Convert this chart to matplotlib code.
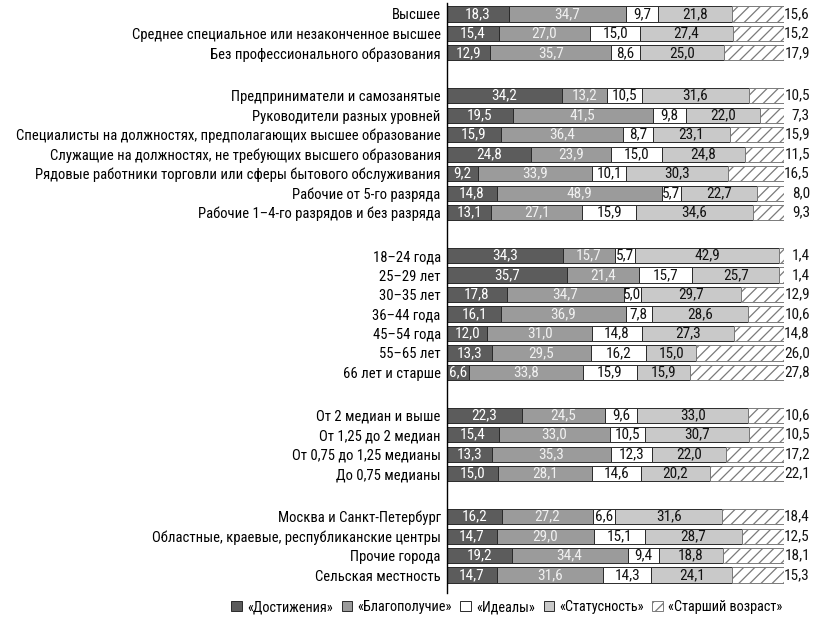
import matplotlib; matplotlib.use("Agg")
import matplotlib.pyplot as plt
from matplotlib import font_manager as fm
from matplotlib.patches import Patch

# narrow sans with Cyrillic, whichever is installed
_have = {f.name for f in fm.fontManager.ttflist}
_cands = ["Roboto Condensed", "PT Sans Narrow", "Liberation Sans Narrow",
          "Fira Sans Condensed", "Open Sans Condensed", "Arial Narrow"]
FONT = next((c for c in _cands if c in _have), "DejaVu Sans")
plt.rcParams.update({"font.family": [FONT, "DejaVu Sans"],
                     "font.size": 10, "hatch.linewidth": 0.9})

SERIES = ["«Достижения»", "«Благополучие»", "«Идеалы»", "«Статусность»", "«Старший возраст»"]
COLORS = ["#5c5c5c", "#9b9b9b", "#ffffff", "#c9c9c9", "#ffffff"]
TXTCOL = ["white", "#f0f0f0", "#111", "#111", "#111"]
HATCH_EC = "#7a7a7a"

groups = [
    ["Высшее",
     "Среднее специальное или незаконченное высшее",
     "Без профессионального образования"],
    ["Предприниматели и самозанятые",
     "Руководители разных уровней",
     "Специалисты на должностях, предполагающих высшее образование",
     "Служащие на должностях, не требующих высшего образования",
     "Рядовые работники торговли или сферы бытового обслуживания",
     "Рабочие от 5-го разряда",
     "Рабочие 1–4-го разрядов и без разряда"],
    ["18–24 года", "25–29 лет", "30–35 лет", "36–44 года",
     "45–54 года", "55–65 лет", "66 лет и старше"],
    ["От 2 медиан и выше", "От 1,25 до 2 медиан",
     "От 0,75 до 1,25 медианы", "До 0,75 медианы"],
    ["Москва и Санкт-Петербург",
     "Областные, краевые, республиканские центры",
     "Прочие города", "Сельская местность"],
]

dostizh = [18.3, 15.4, 12.9,
           34.2, 19.5, 15.9, 24.8, 9.2, 14.8, 13.1,
           34.3, 35.7, 17.8, 16.1, 12.0, 13.3, 6.6,
           22.3, 15.4, 13.3, 15.0,
           16.2, 14.7, 19.2, 14.7]
blagop = [34.7, 27.0, 35.7,
          13.2, 41.5, 36.4, 23.9, 33.9, 48.9, 27.1,
          15.7, 21.4, 34.7, 36.9, 31.0, 29.5, 33.8,
          24.5, 33.0, 35.3, 28.1,
          27.2, 29.0, 34.4, 31.6]
idealy = [9.7, 15.0, 8.6,
          10.5, 9.8, 8.7, 15.0, 10.1, 5.7, 15.9,
          5.7, 15.7, 5.0, 7.8, 14.8, 16.2, 15.9,
          9.6, 10.5, 12.3, 14.6,
          6.6, 15.1, 9.4, 14.3]
status = [21.8, 27.4, 25.0,
          31.6, 22.0, 23.1, 24.8, 30.3, 22.7, 34.6,
          42.9, 25.7, 29.7, 28.6, 27.3, 15.0, 15.9,
          33.0, 30.7, 22.0, 20.2,
          31.6, 28.7, 18.8, 24.1]
starsh = [15.6, 15.2, 17.9,
          10.5, 7.3, 15.9, 11.5, 16.5, 8.0, 9.3,
          1.4, 1.4, 12.9, 10.6, 14.8, 26.0, 27.8,
          10.6, 10.5, 17.2, 22.1,
          18.4, 12.5, 18.1, 15.3]

GAP = 2.2
labels, ypos = [], []
y = 0.0
for g in groups:
    for lab in g:
        labels.append(lab); ypos.append(y); y += 1
    y += GAP - 1
series = [dostizh, blagop, idealy, status, starsh]

fig = plt.figure(figsize=(8.19, 6.24), dpi=100)
ax = fig.add_axes([447/819, 1-593/624, 337/819, 590/624])

left = [0.0]*len(labels)
for k, vals in enumerate(series):
    hatched = (k == 4)
    ax.barh(ypos, vals, left=left, height=0.78, color=COLORS[k],
            edgecolor=HATCH_EC if hatched else "#2a2a2a",
            linewidth=0.7, hatch="///" if hatched else None)
    for yy, l, v in zip(ypos, left, vals):
        s = f"{v:.1f}".replace(".", ",")
        if hatched:
            ax.text(107.7, yy, s, ha="right", va="center", fontsize=11,
                    color="#111", clip_on=False)
        else:
            ax.text(l + v/2, yy, s, ha="center", va="center", fontsize=11,
                    color=TXTCOL[k])
    left = [a + b for a, b in zip(left, vals)]

ax.set_xlim(0, 100)
ax.set_ylim(ypos[-1] + 0.92, -0.56)
ax.set_yticks(ypos)
ax.set_yticklabels(labels, fontsize=10.5)
ax.tick_params(axis="y", length=0, pad=4.5)
ax.set_xticks([])
for sp in ["top", "right", "bottom"]:
    ax.spines[sp].set_visible(False)
ax.spines["left"].set_linewidth(1.0)

handles = [Patch(facecolor=COLORS[k], edgecolor=HATCH_EC if k == 4 else "#2a2a2a",
                 linewidth=0.7, hatch="///" if k == 4 else None) for k in range(5)]
fig.legend(handles, SERIES, loc="center", bbox_to_anchor=(507/819, 1-607/624),
           ncol=5, frameon=False, fontsize=10.3, handlelength=0.75, handleheight=0.75,
           handletextpad=0.35, columnspacing=0.6)

fig.savefig("out.png", dpi=100)
